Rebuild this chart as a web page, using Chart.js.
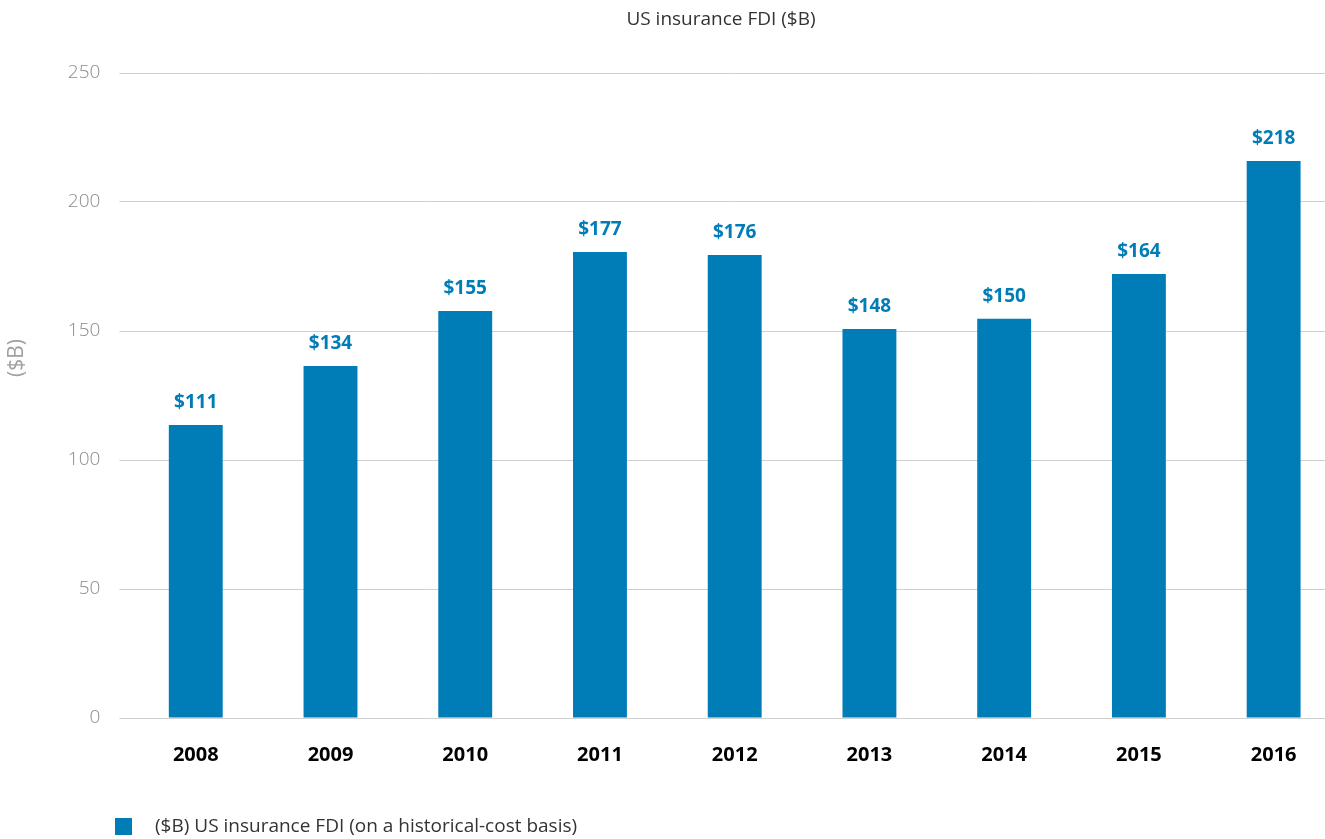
<!DOCTYPE html>
<html>
<head>
<meta charset="utf-8">
<script src="https://cdn.jsdelivr.net/npm/chart.js@4/dist/chart.umd.min.js"></script>
<style>
  html, body { margin: 0; padding: 0; background: #fff; overflow: hidden; }
  #wrap { position: relative; width: 1341px; height: 839px; }
</style>
</head>
<body>
<div id="wrap"><canvas id="fdiChart"></canvas></div>
<script>
// Chart data
const years = ['2008', '2009', '2010', '2011', '2012', '2013', '2014', '2015', '2016'];
const fdiValues = [113.6, 136.4, 157.8, 180.6, 179.5, 150.8, 154.7, 172.1, 215.9];
const valueLabels = ['$111', '$134', '$155', '$177', '$176', '$148', '$150', '$164', '$218'];
const yTicks = [0, 50, 100, 150, 200, 250];

const chartTitle = 'US insurance FDI ($B)';
const axisTitle = '($B)';
const seriesName = '($B) US insurance FDI (on a historical-cost basis)';

const BLUE = '#007cb7';
const FONT = '"Open Sans", "Noto Sans", sans-serif';

// Title, axis title, value labels and legend
const decorPlugin = {
    id: 'decor',
    afterDatasetsDraw(chart) {
        const ctx = chart.ctx;
        ctx.save();

        // value labels above bars
        const meta = chart.getDatasetMeta(0);
        ctx.font = 'bold 19px ' + FONT;
        ctx.fillStyle = BLUE;
        ctx.textAlign = 'center';
        ctx.textBaseline = 'middle';
        meta.data.forEach((bar, i) => {
            ctx.fillText(valueLabels[i], bar.x, bar.y - 22);
        });

        // chart title
        ctx.font = '19px ' + FONT;
        ctx.fillStyle = '#333';
        ctx.fillText(chartTitle, 721, 20);

        // rotated axis title
        ctx.save();
        ctx.translate(17, 358);
        ctx.rotate(-Math.PI / 2);
        ctx.font = '21px ' + FONT;
        ctx.fillStyle = '#a0a0a0';
        ctx.fillText(axisTitle, 0, 0);
        ctx.restore();

        // legend
        ctx.fillStyle = BLUE;
        ctx.fillRect(115, 818, 17, 17);
        ctx.font = '19px ' + FONT;
        ctx.fillStyle = '#333';
        ctx.textAlign = 'left';
        ctx.fillText(seriesName, 155, 827);

        ctx.restore();
    }
};

new Chart(document.getElementById('fdiChart'), {
    type: 'bar',
    data: {
        labels: years,
        datasets: [{
            label: seriesName,
            data: fdiValues,
            backgroundColor: BLUE,
            barPercentage: 0.4,
            categoryPercentage: 1
        }]
    },
    options: {
        responsive: true,
        maintainAspectRatio: false,
        animation: false,
        layout: { padding: { top: 73, left: 0, right: 0, bottom: 0 } },
        plugins: {
            legend: { display: false },
            tooltip: { enabled: false }
        },
        scales: {
            x: {
                grid: { display: false },
                border: { display: false },
                ticks: {
                    color: '#000',
                    font: { family: FONT, size: 20, weight: 'bold' },
                    padding: 17
                },
                afterFit(axis) { axis.height = 121; }
            },
            y: {
                min: 0,
                max: 250,
                afterBuildTicks(axis) { axis.ticks = yTicks.map(v => ({ value: v })); },
                grid: { color: '#cfcfcf', lineWidth: 1, tickLength: 9 },
                border: { display: false },
                ticks: {
                    color: '#8a8a8a',
                    font: { family: FONT, size: 19, weight: 300 },
                    padding: 19
                },
                afterFit(axis) { axis.width = 128.4; }
            }
        }
    },
    plugins: [decorPlugin]
});
</script>
</body>
</html>
